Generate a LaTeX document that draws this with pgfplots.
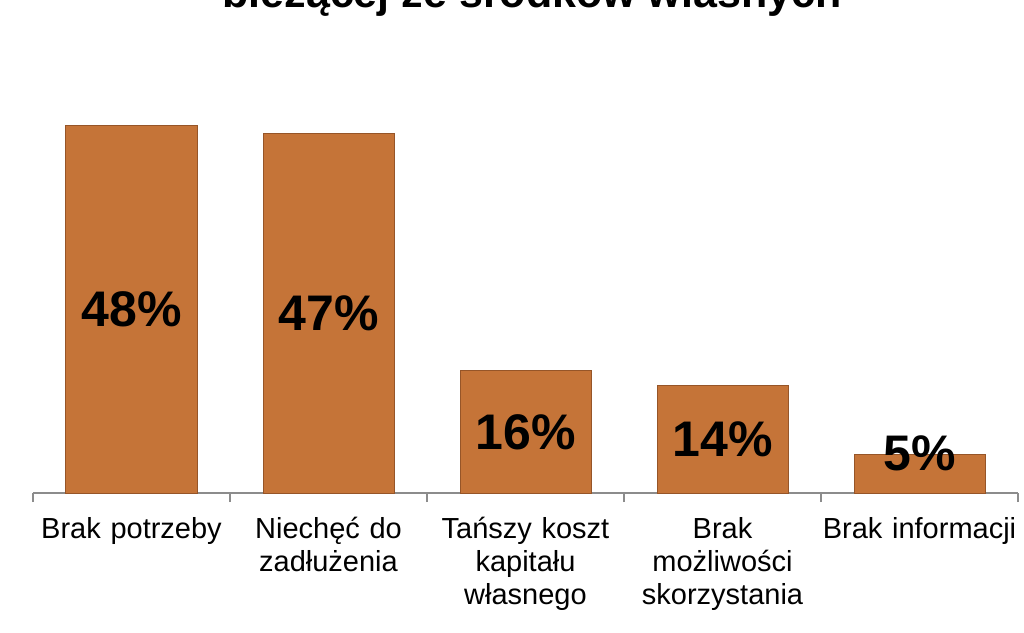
\documentclass[border=0pt]{standalone}
\usepackage{pgfplots}
\pgfplotsset{compat=1.18}
\usepackage{fontspec}
\setmainfont{Liberation Sans}
\definecolor{barc}{RGB}{197,116,56}
\definecolor{bard}{RGB}{150,85,40}
\definecolor{axc}{RGB}{140,140,140}
\begin{document}
\begin{tikzpicture}[x=1pt,y=1pt]
\begin{axis}[
  name=ax, at={(0,0)}, anchor=south west,
  scale only axis, width=985pt, height=459pt,
  xmin=-0.5, xmax=4.5, ymin=0, ymax=60,
  axis y line=none, axis x line*=bottom,
  x axis line style={axc, line width=1.2pt},
  xtick={0,1,2,3,4},
  xticklabels={Brak potrzeby,{Niechęć do\\zadłużenia},{Tańszy koszt\\kapitału\\własnego},{Brak\\możliwości\\skorzystania},Brak informacji},
  major tick length=0pt,
  minor xtick={-0.5,0.5,1.5,2.5,3.5,4.5},
  xtick align=outside,
  minor tick length=9pt,
  minor tick style={axc, line width=1.2pt},
  xticklabel style={font=\fontsize{29}{33}\selectfont, align=center, text width=205pt, inner sep=0pt, yshift=-24pt},
  clip=false,
]
\addplot[ybar, bar width=131pt, fill=barc, draw=bard, line width=1pt] coordinates {(0,48) (1,47) (2,16) (3,14) (4,5)};
\addplot[only marks, mark=none, nodes near coords, point meta=explicit symbolic,
  nodes near coords style={anchor=center, font=\fontsize{50}{50}\bfseries\selectfont, text=black}]
  table[meta=lab] {
x y lab
0 24 48\%
1 23.5 47\%
2 8 16\%
3 7 14\%
4 5.2 5\%
};
\end{axis}
\node[font=\fontsize{43}{50}\bfseries\selectfont, anchor=base] at (499,485) {bieżącej ze środków własnych};
\pgfresetboundingbox
\path[use as bounding box] (-33,-139) rectangle (991,493);
\end{tikzpicture}
\end{document}
